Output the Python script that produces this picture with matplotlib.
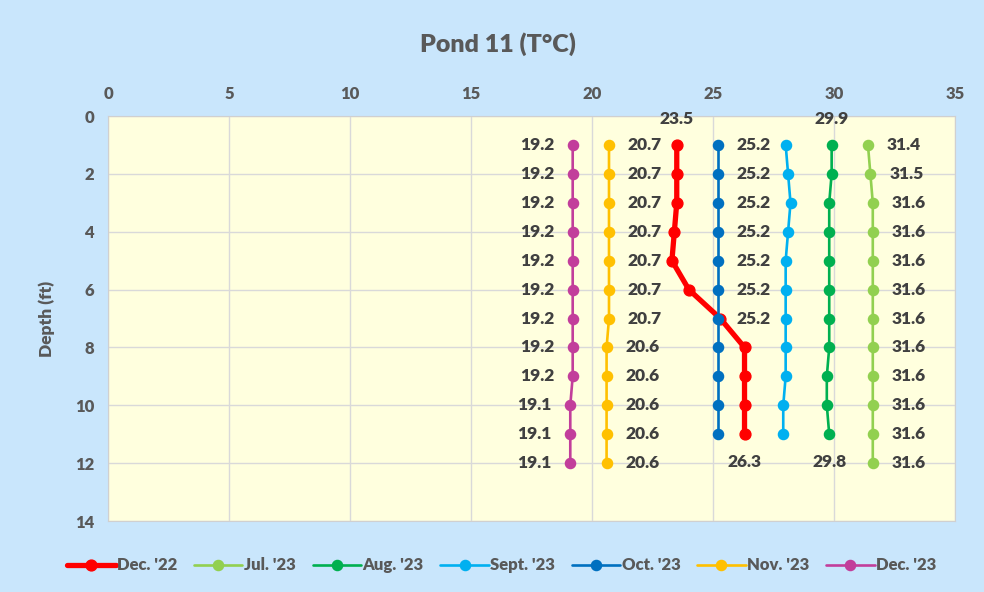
import matplotlib
matplotlib.use("Agg")
import matplotlib.pyplot as plt

plt.rcParams["font.family"] = ["Lato", "DejaVu Sans"]
plt.rcParams["font.weight"] = "bold"

# Data (depth in ft, temperature in deg C)
depth = [1, 2, 3, 4, 5, 6, 7, 8, 9, 10, 11, 12]

dec22 = [23.5, 23.5, 23.5, 23.4, 23.3, 24.0, 25.3, 26.3, 26.3, 26.3, 26.3]
jul23 = [31.4, 31.5, 31.6, 31.6, 31.6, 31.6, 31.6, 31.6, 31.6, 31.6, 31.6, 31.6]
aug23 = [29.9, 29.9, 29.8, 29.8, 29.8, 29.8, 29.8, 29.8, 29.7, 29.7, 29.8]
sep23 = [28.0, 28.1, 28.2, 28.1, 28.0, 28.0, 28.0, 28.0, 28.0, 27.9, 27.9]
oct23 = [25.2, 25.2, 25.2, 25.2, 25.2, 25.2, 25.2, 25.2, 25.2, 25.2, 25.2]
nov23 = [20.7, 20.7, 20.7, 20.7, 20.7, 20.7, 20.7, 20.6, 20.6, 20.6, 20.6, 20.6]
dec23 = [19.2, 19.2, 19.2, 19.2, 19.2, 19.2, 19.2, 19.2, 19.2, 19.1, 19.1, 19.1]

# name, values, colour, line width, marker size, label placement
series = [
    ("Dec. '22", dec22, "#FF0000", 3.8, 7.8, "ends"),
    ("Jul. '23", jul23, "#92D050", 1.9, 7.3, "right"),
    ("Aug. '23", aug23, "#00B050", 1.9, 7.3, "ends"),
    ("Sept. '23", sep23, "#00B0F0", 1.9, 7.3, None),
    ("Oct. '23", oct23, "#0070C0", 1.9, 7.3, "right7"),
    ("Nov. '23", nov23, "#FFC000", 1.9, 7.3, "right"),
    ("Dec. '23", dec23, "#C23E9B", 1.9, 7.3, "left"),
]

LABEL_COLOR = "#404040"
TICK_COLOR = "#595959"
LFS = 12.5

fig = plt.figure(figsize=(9.84, 5.92), dpi=100)
fig.patch.set_facecolor("#C9E6FC")
ax = fig.add_axes([0.1098, 0.1199, 0.8608, 0.6841])
ax.set_facecolor("#FFFFDE")

for name, vals, col, lw, ms, lab in series:
    d = depth[:len(vals)]
    ax.plot(vals, d, color=col, lw=lw, marker="o", ms=ms, label=name,
            solid_capstyle="round")
    if lab == "ends":
        ax.annotate(f"{vals[0]:.1f}", (vals[0], d[0]), xytext=(0, 19),
                    textcoords="offset points", ha="center", va="center",
                    fontsize=LFS, color=LABEL_COLOR, fontweight="heavy")
        ax.annotate(f"{vals[-1]:.1f}", (vals[-1], d[-1]), xytext=(0, -20),
                    textcoords="offset points", ha="center", va="center",
                    fontsize=LFS, color=LABEL_COLOR, fontweight="heavy")
    elif lab in ("right", "right7"):
        n = 7 if lab == "right7" else len(vals)
        for v, y in zip(vals[:n], d[:n]):
            ax.annotate(f"{v:.1f}", (v, y), xytext=(13.5, 0),
                        textcoords="offset points", ha="left", va="center",
                        fontsize=LFS, color=LABEL_COLOR, fontweight="heavy")
    elif lab == "left":
        for v, y in zip(vals, d):
            ax.annotate(f"{v:.1f}", (v, y), xytext=(-13.5, 0),
                        textcoords="offset points", ha="right", va="center",
                        fontsize=LFS, color=LABEL_COLOR, fontweight="heavy")

ax.set_xlim(0, 35)
ax.set_ylim(14, 0)
ax.set_xticks(range(0, 36, 5))
ax.set_yticks(range(0, 15, 2))
ax.xaxis.tick_top()
ax.tick_params(length=0, colors=TICK_COLOR, labelsize=12, pad=10)
for t in ax.get_xticklabels() + ax.get_yticklabels():
    t.set_fontweight("heavy")
ax.grid(True, color="#D9D9D9", lw=1)
ax.set_axisbelow(True)
for s in ax.spines.values():
    s.set_color("#D0D0D0")

ax.set_ylabel("Depth (ft)", fontsize=12.5, fontweight="heavy", color=TICK_COLOR,
              labelpad=14)
fig.text(0.506, 0.925, "Pond 11 (T°C)", ha="center", va="center",
         fontsize=18, fontweight="heavy", color=TICK_COLOR)

leg = fig.legend(loc="center", bbox_to_anchor=(0.51, 0.045), ncol=7,
                 frameon=False, fontsize=12, handlelength=2.9,
                 columnspacing=1.0, handletextpad=0.1)
for t in leg.get_texts():
    t.set_color(TICK_COLOR)
    t.set_fontweight("heavy")

fig.savefig("out.png", dpi=100, facecolor=fig.get_facecolor())
